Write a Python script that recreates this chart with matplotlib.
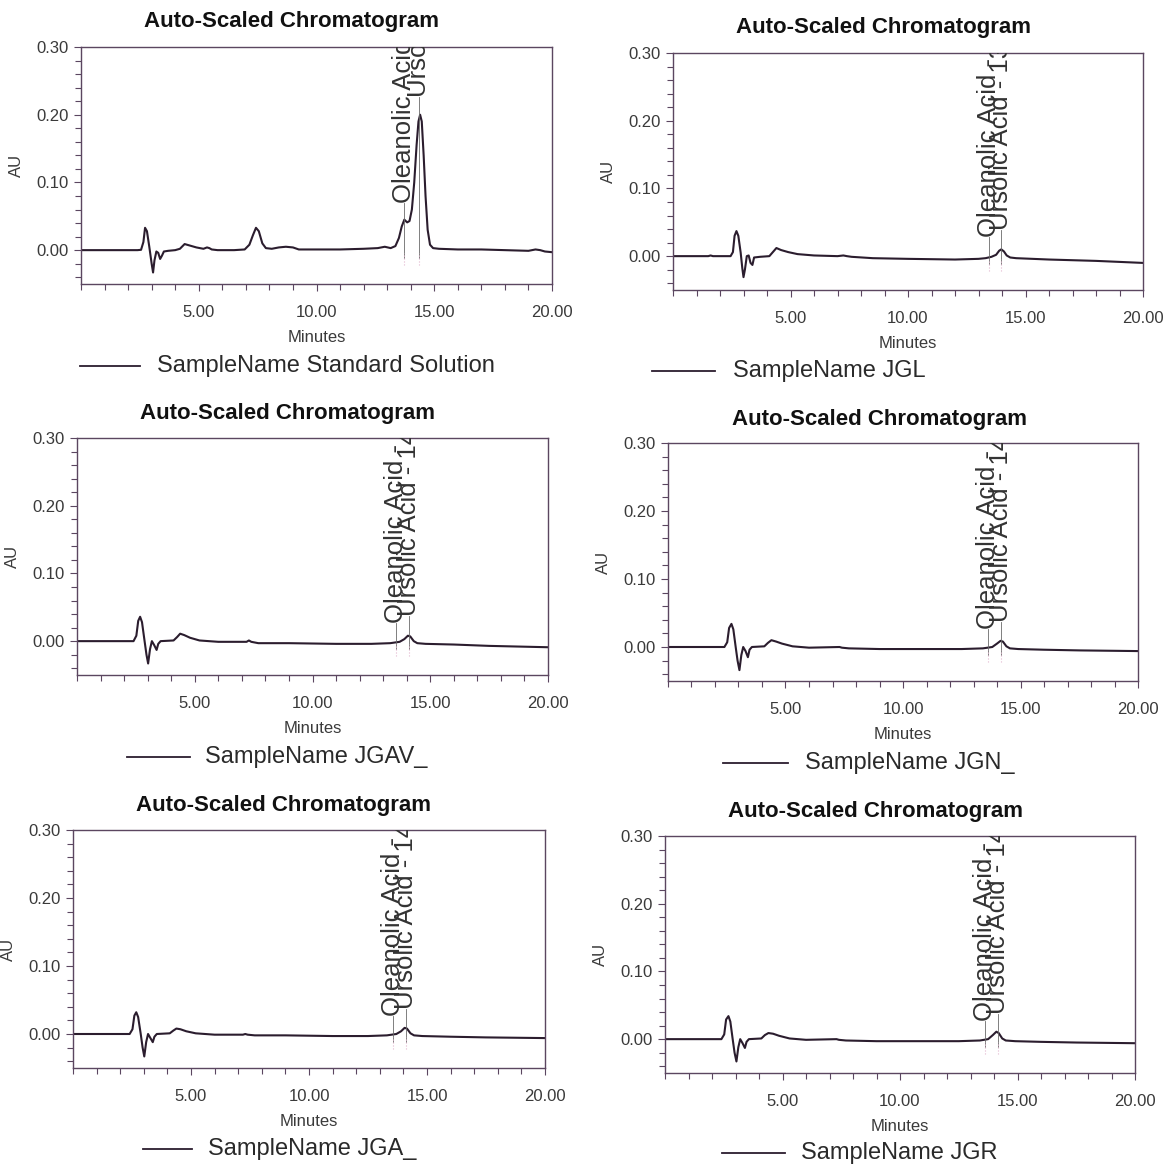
import numpy as np
import matplotlib.pyplot as plt
from matplotlib.lines import Line2D
from matplotlib.ticker import MultipleLocator, FixedLocator

plt.rcParams['font.family'] = ['Liberation Sans', 'DejaVu Sans']

# 1. Chromatogram traces (minutes, AU)
std_t = [0, 2.4, 2.55, 2.65, 2.72, 2.8, 2.9, 3.0, 3.06, 3.12, 3.2, 3.28, 3.36, 3.44, 3.52,
         3.7, 4.0, 4.2, 4.4, 4.6, 4.9, 5.2, 5.35, 5.45, 5.55, 5.8, 6.5, 6.95, 7.15, 7.3,
         7.43, 7.55, 7.7, 7.85, 8.1, 8.4, 8.7, 9.0, 9.25, 10.0, 11.0, 12.0, 12.6, 12.9,
         13.15, 13.35, 13.5, 13.62, 13.73, 13.85, 13.95, 14.05, 14.15, 14.25, 14.33, 14.4,
         14.47, 14.55, 14.63, 14.72, 14.82, 14.95, 15.2, 16.0, 17.0, 18.0, 19.0, 19.3,
         19.5, 19.7, 20.0]
std_au = [0.0, 0.0, 0.0005, 0.012, 0.033, 0.028, 0.005, -0.02, -0.033, -0.015, -0.002,
          -0.004, -0.013, -0.008, -0.002, -0.001, 0.0, 0.002, 0.009, 0.007, 0.004, 0.002,
          0.004, 0.003, 0.001, 0.0, 0.0, 0.001, 0.008, 0.022, 0.033, 0.028, 0.01, 0.003,
          0.002, 0.004, 0.005, 0.004, 0.001, 0.001, 0.001, 0.002, 0.003, 0.005, 0.003,
          0.006, 0.018, 0.035, 0.045, 0.041, 0.043, 0.06, 0.1, 0.155, 0.19, 0.2, 0.19,
          0.14, 0.08, 0.03, 0.008, 0.003, 0.002, 0.001, 0.001, 0.0, -0.001, 0.001, 0.0,
          -0.002, -0.003]

jgl_t = [0, 1.5, 1.6, 1.7, 2.45, 2.55, 2.62, 2.7, 2.78, 2.88, 2.95, 3.0, 3.06, 3.14, 3.22,
         3.3, 3.38, 3.45, 3.7, 4.1, 4.25, 4.4, 4.6, 4.9, 5.3, 6.0, 7.0, 7.25, 7.4, 7.6, 8.5,
         10.0, 12.0, 13.0, 13.3, 13.55, 13.75, 13.88, 13.97, 14.08, 14.2, 14.35, 14.6,
         16.0, 18.0, 20.0]
jgl_au = [0.0, 0.0, 0.001, 0.0, 0.0, 0.006, 0.03, 0.037, 0.03, 0.005, -0.018, -0.031,
          -0.02, 0.0, 0.001, -0.01, -0.013, -0.002, -0.001, 0.0, 0.006, 0.012, 0.009,
          0.006, 0.003, 0.001, 0.0, 0.001, 0.0, -0.001, -0.003, -0.004, -0.005, -0.004,
          -0.003, -0.001, 0.002, 0.008, 0.010, 0.007, 0.001, -0.002, -0.003, -0.005,
          -0.007, -0.01]

jgav_t = [0, 2.4, 2.52, 2.6, 2.68, 2.76, 2.87, 2.95, 3.02, 3.1, 3.18, 3.28, 3.38, 3.45,
          3.55, 4.1, 4.25, 4.38, 4.55, 4.8, 5.2, 6.0, 7.2, 7.3, 7.4, 7.7, 9.0, 11.0, 12.5,
          13.3, 13.7, 13.9, 14.05, 14.15, 14.3, 14.45, 14.8, 16.0, 17.5, 20.0]
jgav_au = [0.0, 0.0, 0.008, 0.03, 0.036, 0.028, 0.0, -0.02, -0.033, -0.012, 0.0, -0.006,
           -0.013, -0.004, 0.0, 0.001, 0.006, 0.011, 0.009, 0.005, 0.001, -0.001, -0.001,
           0.001, -0.001, -0.003, -0.003, -0.004, -0.004, -0.003, -0.001, 0.003, 0.008,
           0.007, 0.0, -0.003, -0.004, -0.005, -0.007, -0.009]

jgn_t = [0, 2.4, 2.52, 2.6, 2.7, 2.78, 2.88, 2.96, 3.04, 3.12, 3.2, 3.3, 3.4, 3.47, 3.57,
         4.1, 4.25, 4.4, 4.6, 4.85, 5.3, 6.0, 7.3, 7.4, 7.7, 9.0, 11.0, 12.5, 13.4, 13.8,
         14.0, 14.15, 14.25, 14.4, 14.55, 14.9, 16.0, 17.5, 20.0]
jgn_au = [0.0, 0.0, 0.007, 0.028, 0.034, 0.026, 0.0, -0.02, -0.034, -0.012, 0.0, -0.006,
          -0.015, -0.004, 0.0, 0.001, 0.006, 0.01, 0.008, 0.005, 0.001, -0.001, 0.0,
          -0.001, -0.002, -0.003, -0.003, -0.003, -0.002, 0.0, 0.005, 0.009, 0.008, 0.001,
          -0.002, -0.003, -0.004, -0.005, -0.006]

jga_t = [0, 2.4, 2.52, 2.6, 2.68, 2.76, 2.87, 2.95, 3.02, 3.1, 3.18, 3.28, 3.38, 3.45,
         3.55, 4.1, 4.25, 4.38, 4.55, 4.8, 5.2, 6.0, 7.2, 7.3, 7.4, 7.7, 9.0, 11.0, 12.5,
         13.3, 13.7, 13.9, 14.05, 14.15, 14.3, 14.45, 14.8, 16.0, 17.5, 20.0]
jga_au = [0.0, 0.0, 0.007, 0.027, 0.032, 0.025, 0.0, -0.02, -0.033, -0.012, 0.0, -0.006,
          -0.012, -0.004, 0.0, 0.001, 0.005, 0.008, 0.007, 0.004, 0.001, -0.001, -0.001,
          0.0, -0.001, -0.002, -0.002, -0.003, -0.003, -0.002, 0.0, 0.004, 0.009, 0.008,
          0.001, -0.002, -0.003, -0.004, -0.005, -0.006]

jgr_t = [0, 2.4, 2.52, 2.6, 2.7, 2.78, 2.88, 2.96, 3.04, 3.12, 3.2, 3.3, 3.4, 3.47, 3.57,
         4.1, 4.25, 4.4, 4.6, 4.85, 5.3, 6.0, 7.3, 7.4, 7.7, 9.0, 11.0, 12.5, 13.4, 13.75,
         13.95, 14.1, 14.2, 14.35, 14.5, 14.9, 16.0, 17.5, 20.0]
jgr_au = [0.0, 0.0, 0.007, 0.029, 0.034, 0.026, 0.0, -0.02, -0.033, -0.012, 0.0, -0.006,
          -0.013, -0.004, 0.0, 0.001, 0.006, 0.009, 0.008, 0.005, 0.001, -0.001, 0.0,
          -0.001, -0.002, -0.003, -0.003, -0.003, -0.002, 0.0, 0.006, 0.011, 0.009, 0.001,
          -0.002, -0.003, -0.004, -0.005, -0.006]

sample_names = ["Standard Solution", "JGL", "JGAV_", "JGN_", "JGA_", "JGR"]
traces = [(std_t, std_au), (jgl_t, jgl_au), (jgav_t, jgav_au),
          (jgn_t, jgn_au), (jga_t, jga_au), (jgr_t, jgr_au)]

# peak labels: (minutes, AU where text starts, text)
peak_labels = [
    [(13.73, 0.07, "Oleanolic Acid - 13.728"), (14.36, 0.226, "Ursolic Acid - 14.36")],
    [(13.45, 0.028, "Oleanolic Acid - 13.45"), (13.97, 0.038, "Ursolic Acid - 13.97")],
    [(13.54, 0.027, "Oleanolic Acid - 13.54"), (14.10, 0.037, "Ursolic Acid - 14.10")],
    [(13.62, 0.027, "Oleanolic Acid - 13.62"), (14.18, 0.037, "Ursolic Acid - 14.18")],
    [(13.58, 0.027, "Oleanolic Acid - 13.58"), (14.12, 0.037, "Ursolic Acid - 14.12")],
    [(13.60, 0.027, "Oleanolic Acid - 13.60"), (14.15, 0.037, "Ursolic Acid - 14.15")],
]

# 2. Panel placement in pixels: axes (left, right, top, bottom), title, legend line, legend text
W, H = 1163, 1165
panels = [
    dict(box=(81, 552, 47, 284), title=(292, 22), leg=(80, 140, 366), txt=157),
    dict(box=(673, 1143, 53, 290), title=(883, 28), leg=(652, 715, 371), txt=733),
    dict(box=(77, 548, 438, 675), title=(288, 414), leg=(127, 190, 757), txt=205),
    dict(box=(668, 1138, 443, 681), title=(880, 420), leg=(723, 788, 763), txt=805),
    dict(box=(73, 545, 830, 1068), title=(284, 806), leg=(143, 192, 1149), txt=208),
    dict(box=(665, 1135, 836, 1073), title=(876, 812), leg=(722, 785, 1153), txt=801),
]

line_col = "#2b1d2e"
frame_col = "#5b4660"
tick_col = "#3a3a3a"

fig = plt.figure(figsize=(W / 100, H / 100), dpi=100)

for i, p in enumerate(panels):
    l, r, t, b = p["box"]
    ax = fig.add_axes([l / W, 1 - b / H, (r - l) / W, (b - t) / H])
    times, au = traces[i]
    ax.plot(times, au, color=line_col, lw=1.5)
    ax.set_xlim(0, 20)
    ax.set_ylim(-0.05, 0.30)

    ax.xaxis.set_major_locator(FixedLocator([5, 10, 15, 20]))
    ax.xaxis.set_minor_locator(MultipleLocator(1))
    ax.yaxis.set_major_locator(FixedLocator([0.0, 0.1, 0.2, 0.3]))
    ax.yaxis.set_minor_locator(MultipleLocator(0.02))
    ax.xaxis.set_major_formatter(lambda v, pos: f"{v:.2f}")
    ax.yaxis.set_major_formatter(lambda v, pos: f"{v:.2f}")
    ax.tick_params(which="both", direction="out", colors=frame_col, labelcolor=tick_col,
                   labelsize=12, width=0.8)
    ax.tick_params(axis="x", which="major", length=5, pad=10)
    ax.tick_params(axis="y", which="major", length=5, pad=4)
    ax.tick_params(which="minor", length=4)
    for s in ax.spines.values():
        s.set_color(frame_col)
        s.set_linewidth(1.0)

    ax.set_xlabel("Minutes", fontsize=12, color=tick_col, labelpad=7)
    ax.set_ylabel("AU", fontsize=12, color=tick_col)
    ax.yaxis.set_label_coords(-57 / (r - l), 0.5)

    # peak names stand upright over their peaks and are cut off at the frame
    for x, y0, label in peak_labels[i]:
        ax.plot([x, x], [-0.012, y0], color="#6a6a6a", lw=0.6)
        ax.plot([x, x], [-0.022, -0.004], color="#e3b8d0", lw=0.8, ls=":")
        ax.text(x, y0, label, rotation=90, ha="center", va="bottom",
                fontsize=18.5, color="#333333", clip_on=True)

    tx, ty = p["title"]
    fig.text(tx / W, 1 - ty / H, "Auto-Scaled Chromatogram", ha="center", va="center",
             fontsize=16, fontweight="bold", color="#111111")

    x0, x1, ly = p["leg"]
    fig.add_artist(Line2D([x0 / W, x1 / W], [1 - ly / H, 1 - ly / H],
                          transform=fig.transFigure, color=line_col, lw=1.3))
    fig.text(p["txt"] / W, 1 - ly / H, "SampleName " + sample_names[i], ha="left",
             va="center", fontsize=17, color="#2a2a2a")

fig.savefig("out.png", dpi=100, facecolor="white")
